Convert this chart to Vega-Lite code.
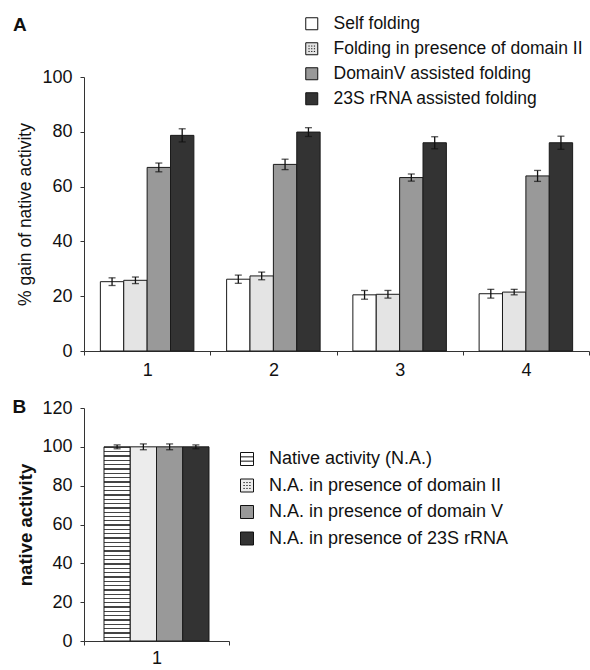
{
  "$schema": "https://vega.github.io/schema/vega-lite/v6.json",
  "padding": {"top": 15, "left": 12, "right": 0, "bottom": 0},
  "spacing": 19,
  "resolve": {"scale": {"fill": "independent", "xOffset": "independent", "x": "independent", "y": "independent"}, "legend": {"fill": "independent"}, "axis": {"x": "independent", "y": "independent"}},
  "config": {
    "font": "Liberation Sans",
    "view": {"stroke": null},
    "axis": {"labelFont": "Liberation Sans", "labelColor": "#111", "titleColor": "#111", "domainColor": "#333", "tickColor": "#333", "grid": false, "labelFontSize": 18, "tickSize": 4, "labelOverlap": false},
    "legend": {"labelFont": "Liberation Sans", "labelColor": "#111", "labelLimit": 400}
  },
  "vconcat": [
    {
      "width": 505,
      "height": 274,
      "title": {"text": "A", "anchor": "start", "frame": "bounds", "fontSize": 19, "fontWeight": "bold", "color": "#111", "dx": -4, "dy": 20, "offset": 0},
      "data": {"values": [
        {"group": "1", "series": "Self folding", "value": 25.3, "low": 23.9, "high": 26.7},
        {"group": "1", "series": "Folding in presence of domain II", "value": 25.8, "low": 24.6, "high": 27.0},
        {"group": "1", "series": "DomainV assisted folding", "value": 67.0, "low": 65.4, "high": 68.6},
        {"group": "1", "series": "23S rRNA assisted folding", "value": 78.7, "low": 76.3, "high": 81.1},
        {"group": "2", "series": "Self folding", "value": 26.2, "low": 24.7, "high": 27.7},
        {"group": "2", "series": "Folding in presence of domain II", "value": 27.4, "low": 26.0, "high": 28.8},
        {"group": "2", "series": "DomainV assisted folding", "value": 68.1, "low": 66.2, "high": 70.0},
        {"group": "2", "series": "23S rRNA assisted folding", "value": 79.9, "low": 78.3, "high": 81.5},
        {"group": "3", "series": "Self folding", "value": 20.5, "low": 18.9, "high": 22.1},
        {"group": "3", "series": "Folding in presence of domain II", "value": 20.7, "low": 19.3, "high": 22.1},
        {"group": "3", "series": "DomainV assisted folding", "value": 63.3, "low": 62.0, "high": 64.6},
        {"group": "3", "series": "23S rRNA assisted folding", "value": 76.0, "low": 73.8, "high": 78.2},
        {"group": "4", "series": "Self folding", "value": 20.9, "low": 19.3, "high": 22.5},
        {"group": "4", "series": "Folding in presence of domain II", "value": 21.5, "low": 20.5, "high": 22.5},
        {"group": "4", "series": "DomainV assisted folding", "value": 63.9, "low": 61.9, "high": 65.9},
        {"group": "4", "series": "23S rRNA assisted folding", "value": 76.0, "low": 73.6, "high": 78.4}
      ]},
      "layer": [
        {
          "mark": {"type": "bar", "stroke": "#1a1a1a", "strokeWidth": 1},
          "encoding": {
            "x": {"field": "group", "type": "nominal", "scale": {"paddingInner": 0, "paddingOuter": 0},
              "axis": {"title": null, "labelAngle": 0, "tickBand": "extent", "labelPadding": 6}},
            "xOffset": {"field": "series", "type": "nominal", "sort": ["Self folding", "Folding in presence of domain II", "DomainV assisted folding", "23S rRNA assisted folding"], "scale": {"paddingInner": 0, "paddingOuter": 0.7}},
            "y": {"field": "value", "type": "quantitative", "scale": {"domain": [0, 100]},
              "axis": {"title": "% gain of native activity", "values": [0, 20, 40, 60, 80, 100], "labelOverlap": false, "labelPadding": 8, "titlePadding": 7, "titleFontSize": 17.5, "titleFontWeight": "normal", "titleFont": "Liberation Sans"}},
            "fill": {"field": "series", "type": "nominal",
              "scale": {"domain": ["Self folding", "Folding in presence of domain II", "DomainV assisted folding", "23S rRNA assisted folding"], "range": ["#ffffff", "#e4e4e4", "#999999", "#333333"]},
              "legend": {"orient": "none", "legendX": 219, "legendY": -62, "title": null, "symbolType": "square", "symbolSize": 144, "symbolStrokeColor": "#111", "symbolStrokeWidth": 1, "labelFontSize": 17.5, "labelOffset": 13, "rowPadding": 6,
                "encode": {"symbols": {"update": {
                  "shape": [
                    {"test": "datum.value === 'Folding in presence of domain II'", "value": "M-1,-1H1V1H-1Z M-0.55,-0.45h0.2 M-0.1,-0.45h0.2 M0.35,-0.45h0.2 M-0.55,0h0.2 M-0.1,0h0.2 M0.35,0h0.2 M-0.55,0.45h0.2 M-0.1,0.45h0.2 M0.35,0.45h0.2"},
                    {"value": "square"}],
                  "fill": [
                    {"test": "datum.value === 'Self folding' || datum.value === 'Folding in presence of domain II'", "value": "#ffffff"},
                    {"test": "datum.value === 'DomainV assisted folding'", "value": "#bbbbbb"},
                    {"value": "#333333"}],
                  "stroke": {"value": "#111111"},
                  "strokeWidth": {"value": 1}
                }}}}}
          }
        },
        {
          "mark": {"type": "rule", "color": "#111", "strokeWidth": 1.3},
          "encoding": {
            "x": {"field": "group", "type": "nominal"},
            "xOffset": {"field": "series", "type": "nominal", "sort": ["Self folding", "Folding in presence of domain II", "DomainV assisted folding", "23S rRNA assisted folding"]},
            "y": {"field": "low", "type": "quantitative"},
            "y2": {"field": "high"}
          }
        },
        {
          "mark": {"type": "tick", "color": "#111", "thickness": 1.3, "size": 7, "orient": "horizontal"},
          "encoding": {
            "x": {"field": "group", "type": "nominal"},
            "xOffset": {"field": "series", "type": "nominal", "sort": ["Self folding", "Folding in presence of domain II", "DomainV assisted folding", "23S rRNA assisted folding"]},
            "y": {"field": "low", "type": "quantitative"}
          }
        },
        {
          "mark": {"type": "tick", "color": "#111", "thickness": 1.3, "size": 7, "orient": "horizontal"},
          "encoding": {
            "x": {"field": "group", "type": "nominal"},
            "xOffset": {"field": "series", "type": "nominal", "sort": ["Self folding", "Folding in presence of domain II", "DomainV assisted folding", "23S rRNA assisted folding"]},
            "y": {"field": "high", "type": "quantitative"}
          }
        }
      ]
    },
    {
      "width": 145,
      "height": 233,
      "title": {"text": "B", "anchor": "start", "frame": "bounds", "fontSize": 19, "fontWeight": "bold", "color": "#111", "dx": -4, "dy": 18, "offset": 0},
      "data": {"values": [
        {"group": "1", "series": "Native activity (N.A.)", "value": 100, "low": 99, "high": 101},
        {"group": "1", "series": "N.A. in presence of domain II", "value": 100, "low": 98.5, "high": 101.5},
        {"group": "1", "series": "N.A. in presence of domain V", "value": 100, "low": 98.5, "high": 101.5},
        {"group": "1", "series": "N.A. in presence of 23S rRNA", "value": 100, "low": 99, "high": 101}
      ]},
      "layer": [
        {
          "mark": {"type": "bar", "stroke": "#1a1a1a", "strokeWidth": 1},
          "encoding": {
            "x": {"field": "group", "type": "nominal", "scale": {"paddingInner": 0, "paddingOuter": 0},
              "axis": {"title": null, "labelAngle": 0, "tickBand": "extent", "labelPadding": 4}},
            "xOffset": {"field": "series", "type": "nominal", "sort": ["Native activity (N.A.)", "N.A. in presence of domain II", "N.A. in presence of domain V", "N.A. in presence of 23S rRNA"], "scale": {"paddingInner": 0, "paddingOuter": 0.762}},
            "y": {"field": "value", "type": "quantitative", "scale": {"domain": [0, 120]},
              "axis": {"title": "native activity", "values": [0, 20, 40, 60, 80, 100, 120], "tickCount": 7, "labelOverlap": false, "labelPadding": 8, "titlePadding": 6.5, "titleFontSize": 18.5, "titleFontWeight": "bold", "titleFont": "Liberation Sans"}},
            "fill": {
              "condition": {"test": "datum.series === 'Native activity (N.A.)'", "value":
                  {"gradient": "linear", "x1": 0, "y1": 0, "x2": 0, "y2": 1, "stops": [
                    {"offset": 0, "color": "#444"}, {"offset": 0.0067, "color": "#444"}, {"offset": 0.0067, "color": "#fff"}, {"offset": 0.0222, "color": "#fff"},
                    {"offset": 0.0222, "color": "#444"}, {"offset": 0.0289, "color": "#444"}, {"offset": 0.0289, "color": "#fff"}, {"offset": 0.0444, "color": "#fff"},
                    {"offset": 0.0444, "color": "#444"}, {"offset": 0.0511, "color": "#444"}, {"offset": 0.0511, "color": "#fff"}, {"offset": 0.0667, "color": "#fff"},
                    {"offset": 0.0667, "color": "#444"}, {"offset": 0.0733, "color": "#444"}, {"offset": 0.0733, "color": "#fff"}, {"offset": 0.0889, "color": "#fff"},
                    {"offset": 0.0889, "color": "#444"}, {"offset": 0.0956, "color": "#444"}, {"offset": 0.0956, "color": "#fff"}, {"offset": 0.1111, "color": "#fff"},
                    {"offset": 0.1111, "color": "#444"}, {"offset": 0.1178, "color": "#444"}, {"offset": 0.1178, "color": "#fff"}, {"offset": 0.1333, "color": "#fff"},
                    {"offset": 0.1333, "color": "#444"}, {"offset": 0.14, "color": "#444"}, {"offset": 0.14, "color": "#fff"}, {"offset": 0.1556, "color": "#fff"},
                    {"offset": 0.1556, "color": "#444"}, {"offset": 0.1622, "color": "#444"}, {"offset": 0.1622, "color": "#fff"}, {"offset": 0.1778, "color": "#fff"},
                    {"offset": 0.1778, "color": "#444"}, {"offset": 0.1844, "color": "#444"}, {"offset": 0.1844, "color": "#fff"}, {"offset": 0.2, "color": "#fff"},
                    {"offset": 0.2, "color": "#444"}, {"offset": 0.2067, "color": "#444"}, {"offset": 0.2067, "color": "#fff"}, {"offset": 0.2222, "color": "#fff"},
                    {"offset": 0.2222, "color": "#444"}, {"offset": 0.2289, "color": "#444"}, {"offset": 0.2289, "color": "#fff"}, {"offset": 0.2444, "color": "#fff"},
                    {"offset": 0.2444, "color": "#444"}, {"offset": 0.2511, "color": "#444"}, {"offset": 0.2511, "color": "#fff"}, {"offset": 0.2667, "color": "#fff"},
                    {"offset": 0.2667, "color": "#444"}, {"offset": 0.2733, "color": "#444"}, {"offset": 0.2733, "color": "#fff"}, {"offset": 0.2889, "color": "#fff"},
                    {"offset": 0.2889, "color": "#444"}, {"offset": 0.2956, "color": "#444"}, {"offset": 0.2956, "color": "#fff"}, {"offset": 0.3111, "color": "#fff"},
                    {"offset": 0.3111, "color": "#444"}, {"offset": 0.3178, "color": "#444"}, {"offset": 0.3178, "color": "#fff"}, {"offset": 0.3333, "color": "#fff"},
                    {"offset": 0.3333, "color": "#444"}, {"offset": 0.34, "color": "#444"}, {"offset": 0.34, "color": "#fff"}, {"offset": 0.3556, "color": "#fff"},
                    {"offset": 0.3556, "color": "#444"}, {"offset": 0.3622, "color": "#444"}, {"offset": 0.3622, "color": "#fff"}, {"offset": 0.3778, "color": "#fff"},
                    {"offset": 0.3778, "color": "#444"}, {"offset": 0.3844, "color": "#444"}, {"offset": 0.3844, "color": "#fff"}, {"offset": 0.4, "color": "#fff"},
                    {"offset": 0.4, "color": "#444"}, {"offset": 0.4067, "color": "#444"}, {"offset": 0.4067, "color": "#fff"}, {"offset": 0.4222, "color": "#fff"},
                    {"offset": 0.4222, "color": "#444"}, {"offset": 0.4289, "color": "#444"}, {"offset": 0.4289, "color": "#fff"}, {"offset": 0.4444, "color": "#fff"},
                    {"offset": 0.4444, "color": "#444"}, {"offset": 0.4511, "color": "#444"}, {"offset": 0.4511, "color": "#fff"}, {"offset": 0.4667, "color": "#fff"},
                    {"offset": 0.4667, "color": "#444"}, {"offset": 0.4733, "color": "#444"}, {"offset": 0.4733, "color": "#fff"}, {"offset": 0.4889, "color": "#fff"},
                    {"offset": 0.4889, "color": "#444"}, {"offset": 0.4956, "color": "#444"}, {"offset": 0.4956, "color": "#fff"}, {"offset": 0.5111, "color": "#fff"},
                    {"offset": 0.5111, "color": "#444"}, {"offset": 0.5178, "color": "#444"}, {"offset": 0.5178, "color": "#fff"}, {"offset": 0.5333, "color": "#fff"},
                    {"offset": 0.5333, "color": "#444"}, {"offset": 0.54, "color": "#444"}, {"offset": 0.54, "color": "#fff"}, {"offset": 0.5556, "color": "#fff"},
                    {"offset": 0.5556, "color": "#444"}, {"offset": 0.5622, "color": "#444"}, {"offset": 0.5622, "color": "#fff"}, {"offset": 0.5778, "color": "#fff"},
                    {"offset": 0.5778, "color": "#444"}, {"offset": 0.5844, "color": "#444"}, {"offset": 0.5844, "color": "#fff"}, {"offset": 0.6, "color": "#fff"},
                    {"offset": 0.6, "color": "#444"}, {"offset": 0.6067, "color": "#444"}, {"offset": 0.6067, "color": "#fff"}, {"offset": 0.6222, "color": "#fff"},
                    {"offset": 0.6222, "color": "#444"}, {"offset": 0.6289, "color": "#444"}, {"offset": 0.6289, "color": "#fff"}, {"offset": 0.6444, "color": "#fff"},
                    {"offset": 0.6444, "color": "#444"}, {"offset": 0.6511, "color": "#444"}, {"offset": 0.6511, "color": "#fff"}, {"offset": 0.6667, "color": "#fff"},
                    {"offset": 0.6667, "color": "#444"}, {"offset": 0.6733, "color": "#444"}, {"offset": 0.6733, "color": "#fff"}, {"offset": 0.6889, "color": "#fff"},
                    {"offset": 0.6889, "color": "#444"}, {"offset": 0.6956, "color": "#444"}, {"offset": 0.6956, "color": "#fff"}, {"offset": 0.7111, "color": "#fff"},
                    {"offset": 0.7111, "color": "#444"}, {"offset": 0.7178, "color": "#444"}, {"offset": 0.7178, "color": "#fff"}, {"offset": 0.7333, "color": "#fff"},
                    {"offset": 0.7333, "color": "#444"}, {"offset": 0.74, "color": "#444"}, {"offset": 0.74, "color": "#fff"}, {"offset": 0.7556, "color": "#fff"},
                    {"offset": 0.7556, "color": "#444"}, {"offset": 0.7622, "color": "#444"}, {"offset": 0.7622, "color": "#fff"}, {"offset": 0.7778, "color": "#fff"},
                    {"offset": 0.7778, "color": "#444"}, {"offset": 0.7844, "color": "#444"}, {"offset": 0.7844, "color": "#fff"}, {"offset": 0.8, "color": "#fff"},
                    {"offset": 0.8, "color": "#444"}, {"offset": 0.8067, "color": "#444"}, {"offset": 0.8067, "color": "#fff"}, {"offset": 0.8222, "color": "#fff"},
                    {"offset": 0.8222, "color": "#444"}, {"offset": 0.8289, "color": "#444"}, {"offset": 0.8289, "color": "#fff"}, {"offset": 0.8444, "color": "#fff"},
                    {"offset": 0.8444, "color": "#444"}, {"offset": 0.8511, "color": "#444"}, {"offset": 0.8511, "color": "#fff"}, {"offset": 0.8667, "color": "#fff"},
                    {"offset": 0.8667, "color": "#444"}, {"offset": 0.8733, "color": "#444"}, {"offset": 0.8733, "color": "#fff"}, {"offset": 0.8889, "color": "#fff"},
                    {"offset": 0.8889, "color": "#444"}, {"offset": 0.8956, "color": "#444"}, {"offset": 0.8956, "color": "#fff"}, {"offset": 0.9111, "color": "#fff"},
                    {"offset": 0.9111, "color": "#444"}, {"offset": 0.9178, "color": "#444"}, {"offset": 0.9178, "color": "#fff"}, {"offset": 0.9333, "color": "#fff"},
                    {"offset": 0.9333, "color": "#444"}, {"offset": 0.94, "color": "#444"}, {"offset": 0.94, "color": "#fff"}, {"offset": 0.9556, "color": "#fff"},
                    {"offset": 0.9556, "color": "#444"}, {"offset": 0.9622, "color": "#444"}, {"offset": 0.9622, "color": "#fff"}, {"offset": 0.9778, "color": "#fff"},
                    {"offset": 0.9778, "color": "#444"}, {"offset": 0.9844, "color": "#444"}, {"offset": 0.9844, "color": "#fff"}, {"offset": 1, "color": "#fff"}
                  ]}
              },
              "field": "series", "type": "nominal",
              "scale": {"domain": ["Native activity (N.A.)", "N.A. in presence of domain II", "N.A. in presence of domain V", "N.A. in presence of 23S rRNA"], "range": ["#ffffff", "#ececec", "#999999", "#333333"]},
              "legend": {"orient": "none", "legendX": 154, "legendY": 42, "title": null, "symbolType": "square", "symbolSize": 169, "symbolStrokeColor": "#111", "symbolStrokeWidth": 1, "labelFontSize": 18, "labelOffset": 13, "rowPadding": 8.5,
                "encode": {"symbols": {"update": {
                  "shape": [
                    {"test": "datum.value === 'Native activity (N.A.)'", "value": "M-1,-1H1V1H-1Z M-1,-0.33H1 M-1,0.33H1"},
                    {"test": "datum.value === 'N.A. in presence of domain II'", "value": "M-1,-1H1V1H-1Z M-0.55,-0.45h0.2 M-0.1,-0.45h0.2 M0.35,-0.45h0.2 M-0.55,0h0.2 M-0.1,0h0.2 M0.35,0h0.2 M-0.55,0.45h0.2 M-0.1,0.45h0.2 M0.35,0.45h0.2"},
                    {"value": "square"}],
                  "fill": [
                    {"test": "datum.value === 'Native activity (N.A.)' || datum.value === 'N.A. in presence of domain II'", "value": "#ffffff"},
                    {"test": "datum.value === 'N.A. in presence of domain V'", "value": "#bbbbbb"},
                    {"value": "#333333"}],
                  "stroke": {"value": "#111111"},
                  "strokeWidth": {"value": 1}
                }}}}
            }
          }
        },
        {
          "mark": {"type": "rule", "color": "#111", "strokeWidth": 1.3},
          "encoding": {
            "x": {"field": "group", "type": "nominal"},
            "xOffset": {"field": "series", "type": "nominal", "sort": ["Native activity (N.A.)", "N.A. in presence of domain II", "N.A. in presence of domain V", "N.A. in presence of 23S rRNA"]},
            "y": {"field": "low", "type": "quantitative"},
            "y2": {"field": "high"}
          }
        },
        {
          "mark": {"type": "tick", "color": "#111", "thickness": 1.3, "size": 7, "orient": "horizontal"},
          "encoding": {
            "x": {"field": "group", "type": "nominal"},
            "xOffset": {"field": "series", "type": "nominal", "sort": ["Native activity (N.A.)", "N.A. in presence of domain II", "N.A. in presence of domain V", "N.A. in presence of 23S rRNA"]},
            "y": {"field": "low", "type": "quantitative"}
          }
        },
        {
          "mark": {"type": "tick", "color": "#111", "thickness": 1.3, "size": 7, "orient": "horizontal"},
          "encoding": {
            "x": {"field": "group", "type": "nominal"},
            "xOffset": {"field": "series", "type": "nominal", "sort": ["Native activity (N.A.)", "N.A. in presence of domain II", "N.A. in presence of domain V", "N.A. in presence of 23S rRNA"]},
            "y": {"field": "high", "type": "quantitative"}
          }
        }
      ]
    }
  ]
}
